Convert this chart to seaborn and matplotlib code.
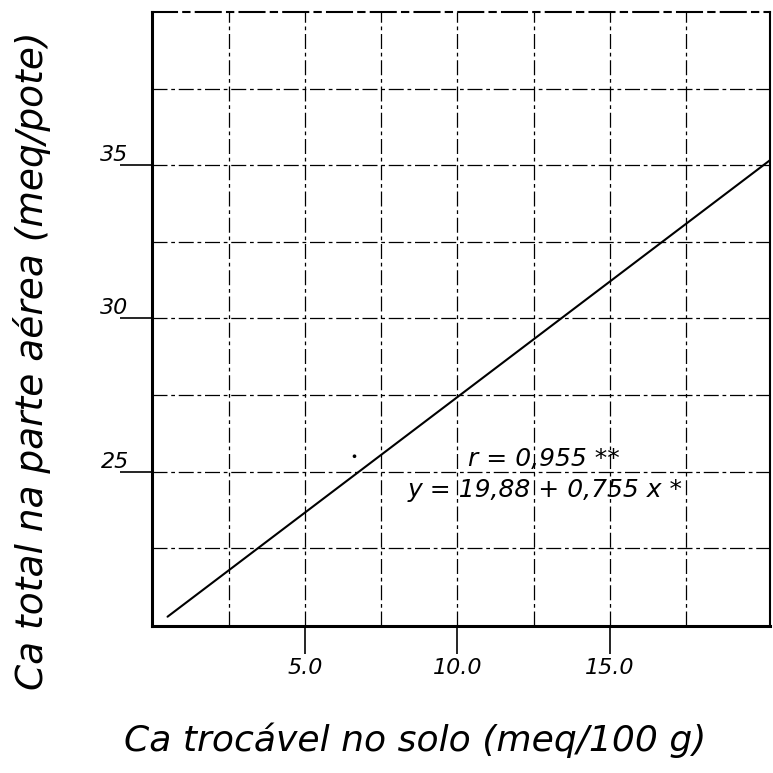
import numpy as np
import pandas as pd
import matplotlib
matplotlib.use("Agg")
import matplotlib.pyplot as plt
import seaborn as sns

# Data
intercept = 19.88
slope = 0.755
line_x = [0.5, 20.25]
point_x = [6.63]
point_y = [25.5]
xticks = [5.0, 10.0, 15.0]
xtick_labels = ["5.0", "10.0", "15.0"]
yticks = [25, 30, 35]
ytick_labels = ["25", "30", "35"]
grid_x = [2.5, 5.0, 7.5, 10.0, 12.5, 15.0, 17.5]
grid_y = [22.5, 25, 27.5, 30, 32.5, 35, 37.5]

sns.set_theme(style="white")
plt.rcParams['font.family'] = ['DejaVu Sans']
plt.rcParams['text.color'] = 'black'
plt.rcParams['axes.labelcolor'] = 'black'
plt.rcParams['xtick.color'] = 'black'
plt.rcParams['ytick.color'] = 'black'

fig = plt.figure(figsize=(7.73, 7.73), dpi=100)
ax = fig.add_axes([0.197, 0.19, 0.799, 0.794])

line_df = pd.DataFrame({"x": line_x, "y": [intercept + slope * v for v in line_x]})
pt_df = pd.DataFrame({"x": point_x, "y": point_y})

dash = (0, (12, 3, 3, 3))
for gx in grid_x:
    ax.axvline(gx, color="black", lw=0.9, ls=dash, zorder=1)
for gy in grid_y:
    ax.axhline(gy, color="black", lw=0.9, ls=dash, zorder=1)

sns.lineplot(data=line_df, x="x", y="y", ax=ax, color="black", lw=1.5, zorder=3)
sns.scatterplot(data=pt_df, x="x", y="y", ax=ax, color="black", s=7, edgecolor="none", zorder=3)

ax.set_xlim(0, 20.25)
ax.set_ylim(19.95, 40)

ax.set_xticks(xticks)
ax.set_xticklabels(xtick_labels, fontstyle="italic", fontsize=16)
ax.set_yticks(yticks)
ax.set_yticklabels(ytick_labels, fontstyle="italic", fontsize=16)
ax.tick_params(axis="x", bottom=True, direction="out", length=20, width=1.2, color="black", pad=3)
ax.tick_params(axis="y", left=True, direction="out", length=23, width=1.2, color="black", pad=-6)
for lab in ax.get_yticklabels():
    lab.set_verticalalignment("bottom")
    lab.set_horizontalalignment("right")

for s in ["left", "bottom"]:
    ax.spines[s].set_color("black")
    ax.spines[s].set_linewidth(2.2)
ax.spines["right"].set_color("black")
ax.spines["right"].set_linewidth(1.5)
ax.spines["top"].set_color("black")
ax.spines["top"].set_linewidth(1.5)
ax.spines["top"].set_linestyle(dash)

ax.set_xlabel("")
ax.set_ylabel("")
fig.text(415 / 773, 1 - 740 / 773, "Ca trocável no solo (meq/100 g)", fontstyle="italic",
         fontsize=26, ha="center", va="center")
fig.text(32 / 773, 1 - 361 / 773, "Ca total na parte aérea (meq/pote)", fontstyle="italic",
         fontsize=27, ha="center", va="center", rotation=90)

ax.text(10.34, 25.42, "r = 0,955 **", fontstyle="italic", fontsize=18, ha="left", va="center", zorder=4)
ax.text(8.38, 24.4, "y = 19,88 + 0,755 x *", fontstyle="italic", fontsize=18, ha="left", va="center", zorder=4)

fig.savefig("out.png", dpi=100, facecolor="white")
